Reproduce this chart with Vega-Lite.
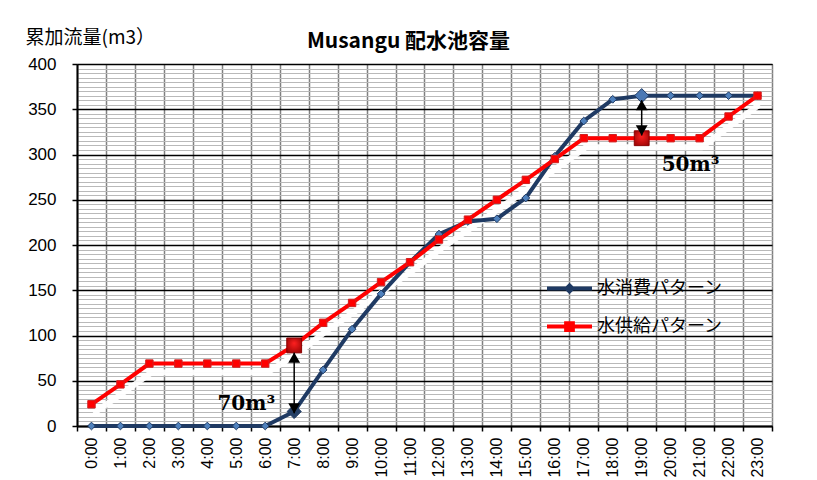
{
  "$schema": "https://vega.github.io/schema/vega-lite/v6.json",
  "width": 695,
  "height": 362,
  "autosize": "none",
  "padding": {"left": 77, "top": 64, "right": 45, "bottom": 54},
  "background": "white",
  "config": {"view": {"stroke": "black", "strokeWidth": 1}},
  "title": {
    "text": "Musangu 配水池容量",
    "font": "Noto Sans CJK JP",
    "fontSize": 21,
    "fontWeight": "bold",
    "color": "black",
    "anchor": "middle",
    "dx": -16,
    "dy": 38,
    "offset": 14
  },
  "datasets": {
    "d": [
      {"t": "0:00", "s": "水消費パターン", "v": 0},
      {"t": "1:00", "s": "水消費パターン", "v": 0},
      {"t": "2:00", "s": "水消費パターン", "v": 0},
      {"t": "3:00", "s": "水消費パターン", "v": 0},
      {"t": "4:00", "s": "水消費パターン", "v": 0},
      {"t": "5:00", "s": "水消費パターン", "v": 0},
      {"t": "6:00", "s": "水消費パターン", "v": 0},
      {"t": "7:00", "s": "水消費パターン", "v": 16},
      {"t": "8:00", "s": "水消費パターン", "v": 62},
      {"t": "9:00", "s": "水消費パターン", "v": 107},
      {"t": "10:00", "s": "水消費パターン", "v": 146},
      {"t": "11:00", "s": "水消費パターン", "v": 181},
      {"t": "12:00", "s": "水消費パターン", "v": 212},
      {"t": "13:00", "s": "水消費パターン", "v": 226},
      {"t": "14:00", "s": "水消費パターン", "v": 229},
      {"t": "15:00", "s": "水消費パターン", "v": 252},
      {"t": "16:00", "s": "水消費パターン", "v": 298},
      {"t": "17:00", "s": "水消費パターン", "v": 337},
      {"t": "18:00", "s": "水消費パターン", "v": 361},
      {"t": "19:00", "s": "水消費パターン", "v": 365},
      {"t": "20:00", "s": "水消費パターン", "v": 365},
      {"t": "21:00", "s": "水消費パターン", "v": 365},
      {"t": "22:00", "s": "水消費パターン", "v": 365},
      {"t": "23:00", "s": "水消費パターン", "v": 365},
      {"t": "0:00", "s": "水供給パターン", "v": 24},
      {"t": "1:00", "s": "水供給パターン", "v": 46},
      {"t": "2:00", "s": "水供給パターン", "v": 69},
      {"t": "3:00", "s": "水供給パターン", "v": 69},
      {"t": "4:00", "s": "水供給パターン", "v": 69},
      {"t": "5:00", "s": "水供給パターン", "v": 69},
      {"t": "6:00", "s": "水供給パターン", "v": 69},
      {"t": "7:00", "s": "水供給パターン", "v": 89},
      {"t": "8:00", "s": "水供給パターン", "v": 114},
      {"t": "9:00", "s": "水供給パターン", "v": 136},
      {"t": "10:00", "s": "水供給パターン", "v": 159},
      {"t": "11:00", "s": "水供給パターン", "v": 181},
      {"t": "12:00", "s": "水供給パターン", "v": 206},
      {"t": "13:00", "s": "水供給パターン", "v": 228},
      {"t": "14:00", "s": "水供給パターン", "v": 250},
      {"t": "15:00", "s": "水供給パターン", "v": 272},
      {"t": "16:00", "s": "水供給パターン", "v": 295},
      {"t": "17:00", "s": "水供給パターン", "v": 318},
      {"t": "18:00", "s": "水供給パターン", "v": 318},
      {"t": "19:00", "s": "水供給パターン", "v": 318},
      {"t": "20:00", "s": "水供給パターン", "v": 318},
      {"t": "21:00", "s": "水供給パターン", "v": 318},
      {"t": "22:00", "s": "水供給パターン", "v": 342},
      {"t": "23:00", "s": "水供給パターン", "v": 365}
    ],
    "ann": [
      {"t": "7:00", "v": 14, "v2": 81},
      {"t": "19:00", "v": 321, "v2": 360}
    ],
    "tri": [
      {"t": "7:00", "v": 81, "dir": "up"},
      {"t": "7:00", "v": 14, "dir": "down"},
      {"t": "19:00", "v": 360, "dir": "up"},
      {"t": "19:00", "v": 321, "dir": "down"}
    ],
    "lab": [
      {"t": "7:00", "v": 18, "txt": "70m³", "side": "left"},
      {"t": "19:00", "v": 282, "txt": "50m³", "side": "right"}
    ]
  },
  "encoding": {
    "x": {
      "field": "t",
      "type": "ordinal",
      "sort": null,
      "scale": {
        "type": "band",
        "paddingInner": 0,
        "paddingOuter": 0,
        "domain": ["0:00","1:00","2:00","3:00","4:00","5:00","6:00","7:00","8:00","9:00","10:00","11:00","12:00","13:00","14:00","15:00","16:00","17:00","18:00","19:00","20:00","21:00","22:00","23:00"]
      },
      "axis": {
        "title": null,
        "tickBand": "extent",
        "grid": true,
        "gridColor": "#808080",
        "gridWidth": 1.5,
        "labelAngle": -90,
        "labelFont": "Liberation Sans",
        "labelFontSize": 16,
        "labelColor": "black",
        "labelPadding": 6,
        "tickSize": 5,
        "tickColor": "black",
        "tickWidth": 1.5,
        "domainColor": "black",
        "domainWidth": 2
      }
    },
    "y": {
      "field": "v",
      "type": "quantitative",
      "scale": {"domain": [0, 400], "nice": false},
      "axis": {
        "values": [0,5,10,15,20,25,30,35,40,45,50,55,60,65,70,75,80,85,90,95,100,105,110,115,120,125,130,135,140,145,150,155,160,165,170,175,180,185,190,195,200,205,210,215,220,225,230,235,240,245,250,255,260,265,270,275,280,285,290,295,300,305,310,315,320,325,330,335,340,345,350,355,360,365,370,375,380,385,390,395,400],
        "labelExpr": "datum.value % 50 === 0 ? datum.label : ''",
        "labelOverlap": false,
        "labelFont": "Liberation Sans",
        "labelFontSize": 17,
        "labelColor": "black",
        "labelPadding": 16,
        "tickSize": 5,
        "tickColor": "black",
        "tickWidth": 1.5,
        "tickOpacity": {"condition": {"test": "datum.value % 50 === 0", "value": 1}, "value": 0},
        "grid": true,
        "gridColor": {"condition": {"test": "datum.value % 50 === 0", "value": "black"}, "value": "#b9b9b9"},
        "gridWidth": {"condition": {"test": "datum.value % 50 === 0", "value": 1.5}, "value": 1},
        "domainColor": "black",
        "domainWidth": 2,
        "title": "累加流量(m3）",
        "titleAngle": 0,
        "titleX": -52,
        "titleY": -27,
        "titleAlign": "left",
        "titleBaseline": "middle",
        "titleFont": "Noto Sans CJK JP",
        "titleFontSize": 19,
        "titleFontWeight": "normal",
        "titleColor": "black"
      }
    }
  },
  "layer": [
    {
      "data": {"name": "d"},
      "transform": [{"filter": "datum.s === '水供給パターン'"}],
      "mark": {"type": "line", "color": "white", "strokeWidth": 6, "xOffset": 2, "yOffset": 9, "opacity": 0.95}
    },
    {
      "data": {"name": "d"},
      "mark": {"type": "line", "strokeWidth": 4},
      "encoding": {
        "color": {
          "field": "s",
          "type": "nominal",
          "sort": null,
          "scale": {"domain": ["水消費パターン", "水供給パターン"], "range": ["#1f3a63", "#ff0000"]},
          "legend": {
            "title": null,
            "orient": "none",
            "legendX": 483,
            "legendY": 215,
            "labelFont": "Noto Sans CJK JP",
            "labelFontSize": 18,
            "labelColor": "black",
            "labelOffset": 18,
            "symbolSize": 225,
            "symbolStrokeWidth": 4,
            "rowPadding": 15,
            "encode": {
              "symbols": {
                "update": {
                  "shape": {"signal": "datum.value === '水消費パターン' ? 'M-3,0H3M0,-0.4L0.4,0L0,0.4L-0.4,0Z' : 'M-3,0H3M-0.45,-0.45H0.45V0.45H-0.45Z'"},
                  "fill": {"signal": "datum.value === '水消費パターン' ? '#4f81bd' : '#ff0000'"},
                  "fillOpacity": {"value": 1}
                }
              }
            }
          }
        }
      }
    },
    {
      "data": {"name": "d"},
      "transform": [{"filter": "datum.s === '水消費パターン'"}],
      "mark": {"type": "point", "shape": "diamond", "filled": true, "fill": "#4f81bd", "stroke": "#1f3a63", "strokeWidth": 1, "size": 60, "opacity": 1}
    },
    {
      "data": {"name": "d"},
      "transform": [{"filter": "datum.s === '水供給パターン'"}],
      "mark": {"type": "point", "shape": "square", "filled": true, "fill": "#ff0000", "stroke": "#d02020", "strokeWidth": 1, "size": 55, "opacity": 1}
    },
    {
      "data": {"name": "d"},
      "transform": [{"filter": "datum.s === '水供給パターン' && (datum.t === '7:00' || datum.t === '19:00')"}],
      "mark": {
        "type": "point", "shape": "square", "filled": true, "size": 220, "opacity": 1,
        "stroke": "#8b0000", "strokeWidth": 1,
        "fill": {"gradient": "radial", "x1": 0.5, "y1": 0.35, "x2": 0.5, "y2": 0.5, "r1": 0, "r2": 0.75, "stops": [{"offset": 0, "color": "#ff2020"}, {"offset": 1, "color": "#8b0000"}]}
      }
    },
    {
      "data": {"name": "d"},
      "transform": [{"filter": "datum.s === '水消費パターン' && (datum.t === '7:00' || datum.t === '19:00')"}],
      "mark": {"type": "point", "shape": "diamond", "filled": true, "size": 200, "opacity": 1, "stroke": "#1f3a63", "strokeWidth": 1},
      "encoding": {
        "fill": {"condition": {"test": "datum.t === '7:00'", "value": "#243f66"}, "value": "#4a78b4"}
      }
    },
    {
      "data": {"name": "ann"},
      "mark": {"type": "rule", "color": "black", "strokeWidth": 1.5},
      "encoding": {"y2": {"field": "v2"}}
    },
    {
      "data": {"name": "tri"},
      "transform": [{"filter": "datum.dir === 'up'"}],
      "mark": {"type": "point", "shape": "triangle-up", "filled": true, "color": "black", "size": 140, "opacity": 1, "yOffset": 5}
    },
    {
      "data": {"name": "tri"},
      "transform": [{"filter": "datum.dir === 'down'"}],
      "mark": {"type": "point", "shape": "triangle-down", "filled": true, "color": "black", "size": 140, "opacity": 1, "yOffset": -5}
    },
    {
      "data": {"name": "lab"},
      "transform": [{"filter": "datum.side === 'left'"}],
      "mark": {"type": "text", "align": "right", "baseline": "alphabetic", "dx": -19, "font": "DejaVu Serif", "fontWeight": "bold", "fontSize": 20, "color": "black"},
      "encoding": {"text": {"field": "txt"}}
    },
    {
      "data": {"name": "lab"},
      "transform": [{"filter": "datum.side === 'right'"}],
      "mark": {"type": "text", "align": "left", "baseline": "alphabetic", "dx": 20, "font": "DejaVu Serif", "fontWeight": "bold", "fontSize": 20, "color": "black"},
      "encoding": {"text": {"field": "txt"}}
    }
  ]
}
